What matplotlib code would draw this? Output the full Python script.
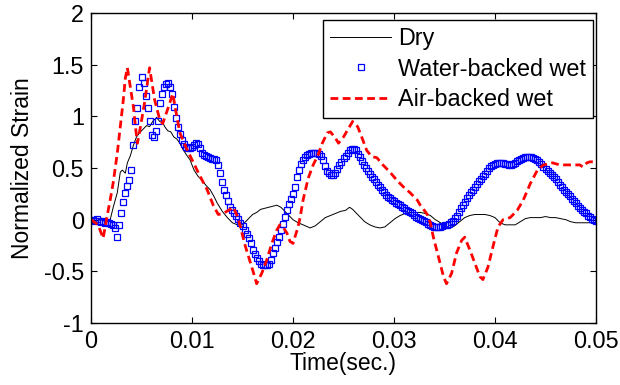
import numpy as np
import matplotlib
matplotlib.use("Agg")
import matplotlib.pyplot as plt

plt.rcParams['font.family'] = ['Liberation Sans', 'DejaVu Sans']

# Dry plate (thin black line)
dry_t = [0.0000, 0.0005, 0.0010, 0.0015, 0.0019, 0.0022, 0.0026, 0.0029, 0.0031, 0.0034,
         0.0036, 0.0039, 0.0042, 0.0045, 0.0048, 0.0052, 0.0055, 0.0058, 0.0061, 0.0065,
         0.0068, 0.0070, 0.0073, 0.0076, 0.0079, 0.0082, 0.0085, 0.0088, 0.0091, 0.0095,
         0.0098, 0.0102, 0.0106, 0.0110, 0.0114, 0.0118, 0.0122, 0.0125, 0.0130, 0.0135,
         0.0140, 0.0145, 0.0150, 0.0155, 0.0160, 0.0164, 0.0168, 0.0172, 0.0176, 0.0180,
         0.0184, 0.0188, 0.0192, 0.0196, 0.0200, 0.0205, 0.0210, 0.0217, 0.0222, 0.0227,
         0.0232, 0.0237, 0.0242, 0.0247, 0.0252, 0.0256, 0.0259, 0.0263, 0.0267, 0.0271,
         0.0276, 0.0281, 0.0286, 0.0291, 0.0296, 0.0301, 0.0306, 0.0311, 0.0316, 0.0321,
         0.0326, 0.0331, 0.0336, 0.0341, 0.0346, 0.0351, 0.0355, 0.0360, 0.0365, 0.0370,
         0.0375, 0.0380, 0.0385, 0.0390, 0.0395, 0.0400, 0.0405, 0.0410, 0.0415, 0.0420,
         0.0425, 0.0430, 0.0435, 0.0440, 0.0445, 0.0450, 0.0455, 0.0460, 0.0465, 0.0470,
         0.0475, 0.0480, 0.0490, 0.0500]
dry_v = [0.00, -0.01, 0.00, -0.02, 0.00, 0.12, 0.26, 0.46, 0.48, 0.45,
         0.55, 0.62, 0.72, 0.80, 0.84, 0.88, 0.91, 0.90, 0.95, 0.99,
         0.95, 0.96, 0.90, 0.86, 0.85, 0.80, 0.78, 0.74, 0.68, 0.62,
         0.58, 0.48, 0.42, 0.38, 0.33, 0.29, 0.22, 0.16, 0.08, 0.02,
         -0.03, -0.05, -0.05, 0.00, 0.05, 0.07, 0.10, 0.11, 0.12, 0.13,
         0.14, 0.12, 0.08, 0.04, 0.00, -0.03, -0.05, -0.08, -0.06, -0.02,
         0.02, 0.04, 0.06, 0.08, 0.09, 0.12, 0.10, 0.06, 0.02, -0.02,
         -0.05, -0.07, -0.08, -0.07, -0.03, 0.01, 0.04, 0.06, 0.07, 0.07,
         0.07, 0.06, 0.04, 0.00, -0.03, -0.06, -0.08, -0.06, -0.02, 0.02,
         0.04, 0.05, 0.05, 0.05, 0.04, 0.02, -0.03, -0.05, -0.05, -0.05,
         -0.02, 0.01, 0.02, 0.02, 0.02, 0.03, 0.02, 0.02, 0.01, 0.00,
         -0.02, -0.03, -0.03, -0.03]

# Water-backed wet plate, sampled every 0.0002 s
water_v = [0.00, 0.00, -0.01, 0.01, -0.01, -0.02, -0.01, -0.03, -0.02, -0.03,
           -0.04, -0.05, -0.08, -0.17, -0.05, 0.06, 0.17, 0.26, 0.33, 0.38,
           0.48, 0.72, 0.95, 1.08, 1.28, 1.38, 1.32, 1.20, 1.08, 0.95,
           0.82, 0.80, 0.86, 0.95, 1.13, 1.22, 1.28, 1.31, 1.32, 1.28,
           1.22, 1.09, 0.98, 0.90, 0.83, 0.77, 0.73, 0.70, 0.69, 0.69,
           0.70, 0.72, 0.74, 0.73, 0.69, 0.65, 0.63, 0.62, 0.61, 0.60,
           0.59, 0.59, 0.58, 0.53, 0.45, 0.36, 0.29, 0.24, 0.18, 0.12,
           0.09, 0.06, 0.04, 0.01, -0.03, -0.06, -0.10, -0.14, -0.18, -0.23,
           -0.29, -0.33, -0.37, -0.40, -0.43, -0.44, -0.44, -0.44, -0.43, -0.39,
           -0.32, -0.27, -0.22, -0.17, -0.10, -0.04, 0.03, 0.09, 0.15, 0.20,
           0.25, 0.32, 0.41, 0.48, 0.54, 0.58, 0.61, 0.63, 0.64, 0.65,
           0.65, 0.65, 0.65, 0.64, 0.62, 0.58, 0.52, 0.47, 0.45, 0.43,
           0.43, 0.45, 0.49, 0.53, 0.56, 0.60, 0.62, 0.65, 0.67, 0.68,
           0.68, 0.67, 0.64, 0.61, 0.57, 0.53, 0.50, 0.47, 0.44, 0.41,
           0.39, 0.36, 0.34, 0.32, 0.29, 0.27, 0.24, 0.22, 0.21, 0.19,
           0.18, 0.16, 0.15, 0.14, 0.12, 0.11, 0.09, 0.08, 0.07, 0.06,
           0.05, 0.03, 0.02, 0.01, 0.00, -0.01, -0.02, -0.04, -0.05, -0.06,
           -0.07, -0.07, -0.07, -0.07, -0.06, -0.05, -0.05, -0.04, -0.02, -0.01,
           0.02, 0.04, 0.07, 0.11, 0.14, 0.17, 0.21, 0.24, 0.27, 0.29,
           0.32, 0.35, 0.37, 0.39, 0.42, 0.44, 0.47, 0.50, 0.52, 0.53,
           0.54, 0.55, 0.55, 0.55, 0.55, 0.54, 0.54, 0.53, 0.53, 0.54,
           0.55, 0.57, 0.58, 0.59, 0.60, 0.61, 0.61, 0.61, 0.61, 0.60,
           0.59, 0.58, 0.56, 0.54, 0.51, 0.49, 0.47, 0.45, 0.43, 0.41,
           0.39, 0.36, 0.34, 0.32, 0.29, 0.27, 0.25, 0.23, 0.20, 0.18,
           0.16, 0.13, 0.11, 0.09, 0.07, 0.06, 0.04, 0.03, 0.01, 0.00,
           -0.01]
water_t = np.linspace(0, 0.05, len(water_v))

# Air-backed wet plate (red dashed)
air_t = [0.0000, 0.0007, 0.0012, 0.0017, 0.0019, 0.0022, 0.0026, 0.0029, 0.0032, 0.0034,
         0.0036, 0.0039, 0.0042, 0.0044, 0.0046, 0.0049, 0.0053, 0.0058, 0.0063, 0.0068,
         0.0071, 0.0077, 0.0081, 0.0084, 0.0088, 0.0095, 0.0101, 0.0108, 0.0115, 0.0121,
         0.0126, 0.0131, 0.0136, 0.0141, 0.0145, 0.0148, 0.0152, 0.0157, 0.0162, 0.0164,
         0.0169, 0.0174, 0.0179, 0.0184, 0.0187, 0.0190, 0.0194, 0.0197, 0.0200, 0.0205,
         0.0207, 0.0210, 0.0215, 0.0220, 0.0225, 0.0229, 0.0234, 0.0237, 0.0242, 0.0245,
         0.0250, 0.0256, 0.0259, 0.0264, 0.0268, 0.0273, 0.0278, 0.0283, 0.0289, 0.0296,
         0.0303, 0.0309, 0.0316, 0.0323, 0.0326, 0.0330, 0.0333, 0.0336, 0.0339, 0.0344,
         0.0349, 0.0352, 0.0357, 0.0362, 0.0367, 0.0370, 0.0375, 0.0380, 0.0385, 0.0388,
         0.0393, 0.0398, 0.0403, 0.0408, 0.0415, 0.0422, 0.0428, 0.0435, 0.0442, 0.0448,
         0.0457, 0.0464, 0.0474, 0.0484, 0.0487, 0.0491, 0.0494, 0.0500]
air_v = [0.00, -0.05, -0.18, 0.09, 0.19, 0.36, 0.64, 0.90, 1.16, 1.37,
         1.47, 1.28, 1.09, 0.90, 0.74, 0.90, 1.13, 1.47, 1.16, 0.97,
         0.93, 1.10, 1.22, 1.05, 0.84, 0.68, 0.56, 0.42, 0.29, 0.14,
         0.05, 0.06, 0.09, 0.12, 0.03, -0.07, -0.23, -0.39, -0.55, -0.62,
         -0.52, -0.39, -0.23, -0.10, -0.05, -0.07, -0.13, -0.21, -0.23, -0.07,
         0.02, 0.19, 0.40, 0.53, 0.63, 0.74, 0.84, 0.85, 0.79, 0.74,
         0.80, 0.90, 0.95, 0.90, 0.80, 0.67, 0.61, 0.60, 0.53, 0.46,
         0.38, 0.32, 0.26, 0.19, 0.14, 0.09, 0.05, -0.03, -0.17, -0.36,
         -0.55, -0.62, -0.52, -0.32, -0.20, -0.17, -0.29, -0.42, -0.55, -0.58,
         -0.46, -0.26, -0.07, 0.00, 0.02, 0.09, 0.19, 0.35, 0.48, 0.53,
         0.55, 0.53, 0.53, 0.53, 0.51, 0.55, 0.56, 0.56]

fig = plt.figure(figsize=(6.2, 3.85), dpi=100)
ax = fig.add_axes([91 / 620, 62 / 385, 505 / 620, 310 / 385])

ax.plot(dry_t, dry_v, color='black', lw=0.7, label='Dry')
ax.plot(water_t, water_v, 's', mfc='none', mec='blue', ms=5.0, mew=0.9,
        label='Water-backed wet')
ax.plot(air_t, air_v, color='red', lw=2.0, dashes=(2.8, 1.6), label='Air-backed wet')

ax.set_xlim(0, 0.05)
ax.set_ylim(-1, 2)
ax.set_xticks([0, 0.01, 0.02, 0.03, 0.04, 0.05])
ax.set_xticklabels(['0', '0.01', '0.02', '0.03', '0.04', '0.05'])
ax.set_yticks([-1, -0.5, 0, 0.5, 1, 1.5, 2])
ax.set_yticklabels(['-1', '-0.5', '0', '0.5', '1', '1.5', '2'])
ax.tick_params(direction='in', top=True, right=True, length=4, width=0.8,
               labelsize=16.8, pad=5)
for s in ax.spines.values():
    s.set_linewidth(1.0)

ax.set_xlabel('Time(sec.)', fontsize=16.5, labelpad=-1)
ax.set_ylabel('Normalized Strain', fontsize=16.5, labelpad=7)

leg = ax.legend(loc='upper right', bbox_to_anchor=(0.994, 0.977), borderaxespad=0,
                fontsize=16.8, fancybox=False, edgecolor='black', framealpha=1,
                numpoints=1, handlelength=2.6, handletextpad=0.3,
                labelspacing=0.32, borderpad=0.3)
leg.get_frame().set_linewidth(1.0)

fig.savefig('out.png', dpi=100)
